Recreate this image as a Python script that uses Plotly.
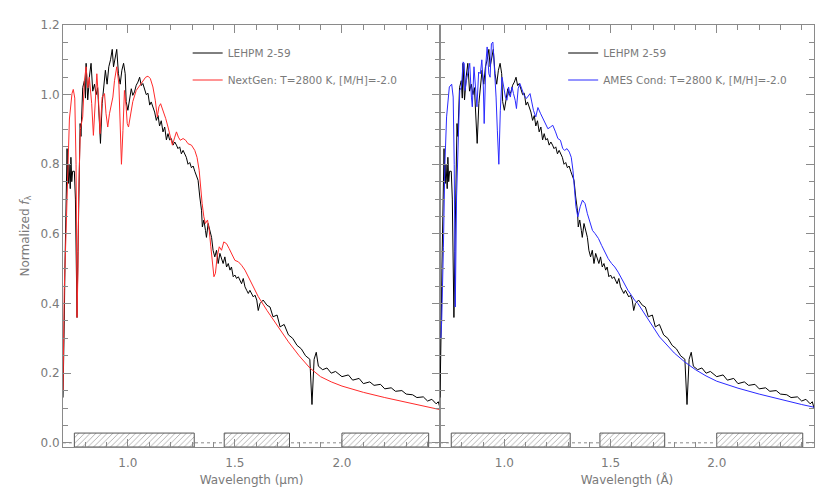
import plotly.graph_objects as go
from plotly.subplots import make_subplots

# Observed spectrum LEHPM 2-59 (wavelength in micron, normalized flux)
lehpm_wl = [0.697, 0.700, 0.703, 0.706, 0.709, 0.713, 0.716, 0.719, 0.722, 0.725, 0.728, 0.731, 0.734, 0.738, 0.742,
            0.750, 0.755, 0.758, 0.7625, 0.767, 0.772, 0.777, 0.781, 0.786, 0.789, 0.797, 0.802, 0.805, 0.809, 0.8125,
            0.817, 0.820, 0.828, 0.836, 0.844, 0.852, 0.859, 0.867, 0.872, 0.880, 0.8875, 0.895, 0.903, 0.911, 0.919,
            0.927, 0.933, 0.941, 0.948, 0.956, 0.964, 0.972, 0.980, 0.9875, 0.992, 1.000, 1.008, 1.016, 1.023, 1.031,
            1.039, 1.047, 1.055, 1.0625, 1.070, 1.078, 1.086, 1.094, 1.102, 1.109, 1.117, 1.125, 1.133, 1.141, 1.148,
            1.156, 1.164, 1.172, 1.180, 1.1875, 1.195, 1.203, 1.211, 1.219, 1.227, 1.234, 1.242, 1.250, 1.258, 1.266,
            1.273, 1.281, 1.289, 1.297, 1.305, 1.3125, 1.320, 1.328, 1.336, 1.344, 1.348, 1.355, 1.3625, 1.367, 1.375,
            1.383, 1.391, 1.398, 1.406, 1.414, 1.422, 1.430, 1.4375, 1.445, 1.453, 1.461, 1.469, 1.477, 1.484, 1.492,
            1.500, 1.508, 1.516, 1.523, 1.531, 1.539, 1.547, 1.555, 1.5625, 1.570, 1.578, 1.586, 1.594, 1.602, 1.609,
            1.617, 1.632, 1.650, 1.664, 1.678, 1.697, 1.711, 1.73, 1.75, 1.77, 1.79, 1.81, 1.83, 1.85, 1.86, 1.87,
            1.88, 1.89, 1.91, 1.93, 1.95, 1.97, 2.00, 2.03, 2.05, 2.08, 2.10, 2.13, 2.15, 2.18, 2.20, 2.23, 2.25,
            2.28, 2.30, 2.33, 2.35, 2.38, 2.40, 2.42, 2.44, 2.45, 2.458]
lehpm_flux = [0.13, 0.20, 0.35, 0.50, 0.60, 0.72, 0.845, 0.76, 0.745, 0.80, 0.77, 0.73, 0.82, 0.75, 0.78,
              0.78, 0.70, 0.55, 0.36, 0.55, 0.80, 0.917, 0.88, 0.97, 1.02, 1.04, 0.99, 1.09, 1.03, 0.985,
              1.02, 1.05, 1.09, 1.01, 1.03, 1.00, 1.02, 0.90, 0.86, 0.975, 1.03, 1.07, 1.03, 1.08, 1.10,
              1.13, 1.08, 1.11, 1.13, 1.06, 1.03, 1.07, 1.09, 1.06, 0.98, 0.955, 0.993, 1.017, 0.998, 1.008,
              1.027, 1.036, 1.05, 1.026, 1.032, 1.017, 1.00, 1.004, 0.97, 0.979, 0.965, 0.95, 0.926, 0.94, 0.91,
              0.925, 0.893, 0.907, 0.87, 0.888, 0.87, 0.874, 0.855, 0.864, 0.855, 0.845, 0.85, 0.83, 0.84, 0.83,
              0.82, 0.80, 0.805, 0.79, 0.795, 0.78, 0.764, 0.754, 0.706, 0.668, 0.62, 0.64, 0.61, 0.59, 0.63,
              0.61, 0.59, 0.553, 0.534, 0.553, 0.515, 0.544, 0.525, 0.515, 0.534, 0.505, 0.515, 0.496, 0.505, 0.477,
              0.482, 0.472, 0.477, 0.467, 0.457, 0.472, 0.448, 0.438, 0.429, 0.438, 0.429, 0.419, 0.424, 0.41, 0.38,
              0.40, 0.41, 0.395, 0.39, 0.362, 0.367, 0.333, 0.34, 0.31, 0.30, 0.28, 0.27, 0.25, 0.24, 0.11, 0.24,
              0.26, 0.22, 0.21, 0.215, 0.20, 0.205, 0.19, 0.195, 0.18, 0.185, 0.17, 0.175, 0.165, 0.168, 0.155, 0.158, 0.148,
              0.15, 0.14, 0.138, 0.13, 0.132, 0.12, 0.125, 0.112, 0.118, 0.10]

# NextGen model, T=2800 K, [M/H]=-2.0
nextgen_wl = [0.697, 0.700, 0.703, 0.711, 0.719, 0.727, 0.739, 0.745, 0.752, 0.758, 0.7625, 0.767, 0.770, 0.778,
              0.789, 0.797, 0.805, 0.8125, 0.820, 0.831, 0.839, 0.847, 0.855, 0.8625, 0.870, 0.880, 0.891, 0.898,
              0.906, 0.914, 0.922, 0.930, 0.9375, 0.948, 0.958, 0.966, 0.970, 0.977, 0.984, 0.992, 0.997, 1.003,
              1.011, 1.023, 1.039, 1.055, 1.070, 1.083, 1.094, 1.105, 1.117, 1.128, 1.1375, 1.145, 1.153, 1.164,
              1.177, 1.1875, 1.198, 1.208, 1.219, 1.227, 1.236, 1.245, 1.258, 1.270, 1.281, 1.297, 1.3125, 1.323,
              1.333, 1.339, 1.347, 1.355, 1.3625, 1.372, 1.380, 1.3875, 1.395, 1.402, 1.409, 1.417, 1.427, 1.4375,
              1.448, 1.461, 1.473, 1.484, 1.500, 1.516, 1.531, 1.547, 1.5625, 1.578, 1.594, 1.609, 1.65, 1.70,
              1.75, 1.80, 1.85, 1.90, 1.95, 2.00, 2.10, 2.20, 2.30, 2.40, 2.46]
nextgen_flux = [0.15, 0.30, 0.44, 0.60, 0.75, 0.93, 1.003, 1.015, 0.99, 0.80, 0.36, 0.50, 0.71, 0.90,
                0.936, 1.04, 1.08, 1.02, 1.05, 0.974, 0.883, 0.974, 1.06, 0.99, 0.888, 0.993, 1.003, 0.945,
                0.907, 0.945, 0.965, 0.993, 1.04, 1.08, 1.03, 0.897, 0.80, 0.897, 1.012, 0.965, 0.917, 0.907,
                0.936, 0.98, 1.012, 1.027, 1.04, 1.05, 1.053, 1.046, 1.022, 0.984, 0.936, 0.965, 0.974, 0.955,
                0.931, 0.907, 0.878, 0.855, 0.878, 0.893, 0.878, 0.869, 0.874, 0.869, 0.859, 0.855, 0.84, 0.82,
                0.783, 0.735, 0.687, 0.649, 0.63, 0.64, 0.61, 0.563, 0.515, 0.477, 0.487, 0.534, 0.563, 0.553,
                0.577, 0.572, 0.558, 0.544, 0.524, 0.52, 0.51, 0.496, 0.477, 0.458, 0.44, 0.42, 0.38, 0.335,
                0.29, 0.25, 0.215, 0.19, 0.175, 0.163, 0.145, 0.13, 0.117, 0.103, 0.095]

# AMES Cond model, T=2800 K, [M/H]=-2.0
ames_wl = [0.701, 0.705, 0.713, 0.720, 0.728, 0.741, 0.752, 0.759, 0.764, 0.769, 0.775, 0.783, 0.790, 0.798,
           0.806, 0.811, 0.815, 0.821, 0.829, 0.837, 0.845, 0.849, 0.857, 0.865, 0.871, 0.879, 0.887, 0.894,
           0.901, 0.905, 0.913, 0.919, 0.927, 0.933, 0.939, 0.946, 0.953, 0.961, 0.967, 0.974, 0.981, 0.989,
           0.997, 1.005, 1.012, 1.020, 1.028, 1.036, 1.043, 1.051, 1.057, 1.065, 1.073, 1.082, 1.093, 1.104,
           1.113, 1.121, 1.129, 1.137, 1.148, 1.158, 1.171, 1.183, 1.194, 1.205, 1.217, 1.228, 1.241, 1.252,
           1.264, 1.275, 1.284, 1.295, 1.306, 1.315, 1.323, 1.329, 1.337, 1.346, 1.357, 1.368, 1.380, 1.391,
           1.404, 1.415, 1.427, 1.443, 1.458, 1.474, 1.489, 1.505, 1.520, 1.536, 1.551, 1.567, 1.582, 1.598,
           1.613, 1.629, 1.669, 1.731, 1.80, 1.85, 1.90, 1.95, 2.00, 2.10, 2.20, 2.30, 2.40, 2.46]
ames_flux = [0.30, 0.35, 0.56, 0.80, 0.936, 1.022, 1.03, 0.993, 0.80, 0.39, 0.706, 0.90, 1.012, 1.022,
             1.094, 1.09, 1.012, 1.04, 1.07, 1.09, 0.993, 0.965, 1.08, 0.993, 0.965, 1.065, 1.06, 1.10,
             1.022, 0.917, 1.09, 1.137, 1.06, 1.05, 1.146, 1.151, 1.08, 0.993, 0.898, 0.80, 0.955, 1.05,
             1.022, 0.993, 0.984, 1.022, 0.993, 1.022, 1.003, 0.984, 0.96, 1.017, 1.032, 1.017, 0.998, 0.989,
             0.998, 1.003, 0.979, 0.955, 0.936, 0.963, 0.945, 0.931, 0.917, 0.902, 0.907, 0.912, 0.893, 0.874,
             0.869, 0.845, 0.84, 0.845, 0.835, 0.82, 0.783, 0.735, 0.678, 0.649, 0.678, 0.697, 0.687, 0.658,
             0.63, 0.61, 0.601, 0.587, 0.567, 0.548, 0.529, 0.515, 0.505, 0.49, 0.472, 0.453, 0.438, 0.424,
             0.41, 0.40, 0.362, 0.304, 0.258, 0.232, 0.21, 0.192, 0.177, 0.157, 0.14, 0.124, 0.11, 0.102]

# Wavelength regions marked by hatched boxes
fit_lo = [0.75, 1.45, 2.00]
fit_hi = [1.31, 1.755, 2.405]

y_ticks = [0.0, 0.2, 0.4, 0.6, 0.8, 1.0, 1.2]
x_ticks = [1.0, 1.5, 2.0]

AX = "#8a8a8a"
TXT = "#7a7a7a"
FONT = "DejaVu Sans"
XR = [0.697, 2.458]
YR = [-0.012, 1.2]

fig = make_subplots(rows=1, cols=2, horizontal_spacing=0.0, shared_yaxes=False)

for col, model_wl, model_flux, color, name, leg in [
    (1, nextgen_wl, nextgen_flux, "#ff2a2a", "NextGen: T=2800 K, [M/H]=-2.0", "legend"),
    (2, ames_wl, ames_flux, "#2a2aff", "AMES Cond: T=2800 K, [M/H]=-2.0", "legend2"),
]:
    fig.add_trace(go.Bar(
        x=[(a + b) / 2 for a, b in zip(fit_lo, fit_hi)],
        width=[b - a for a, b in zip(fit_lo, fit_hi)],
        y=[0.04] * len(fit_lo), base=YR[0],
        marker=dict(color="white", line=dict(color="#555555", width=1),
                    pattern=dict(shape="/", fgcolor="#444444", bgcolor="white", size=4, solidity=0.2)),
        showlegend=False, hoverinfo="skip"), row=1, col=col)
    fig.add_trace(go.Scatter(x=lehpm_wl, y=lehpm_flux, mode="lines", name="LEHPM 2-59",
                             line=dict(color="black", width=1), legend=leg, legendgroup=leg + "a"),
                  row=1, col=col)
    fig.add_trace(go.Scatter(x=model_wl, y=model_flux, mode="lines", name=name,
                             line=dict(color=color, width=1), legend=leg, legendgroup=leg + "b"),
                  row=1, col=col)

common_x = dict(range=XR, tickvals=x_ticks, tickformat=".1f", ticks="inside", ticklen=8,
                tickcolor=AX, linecolor=AX, showline=True, mirror="ticks", showgrid=False, zeroline=False,
                minor=dict(dtick=0.1, tick0=0.0, ticks="inside", ticklen=5, tickcolor=AX),
                tickfont=dict(family=FONT, size=12, color=TXT), ticklabelstandoff=5,
                title=dict(font=dict(family=FONT, size=12, color=TXT), standoff=6))
common_y = dict(range=YR, tickvals=y_ticks, tickformat=".1f", ticks="inside", ticklen=8,
                tickcolor=AX, linecolor=AX, showline=True, mirror="ticks", showgrid=False, zeroline=False,
                minor=dict(dtick=0.05, tick0=0.0, ticks="inside", ticklen=5, tickcolor=AX),
                tickfont=dict(family=FONT, size=12, color=TXT))

fig.update_xaxes(**common_x)
fig.update_yaxes(**common_y)
fig.update_xaxes(title_text="Wavelength (\u03bcm)", domain=[0, 0.502], row=1, col=1)
fig.update_xaxes(title_text="Wavelength (\u00c5)", domain=[0.502, 1], row=1, col=2)
fig.update_yaxes(title=dict(text="Normalized <i>f</i><sub>\u03bb</sub>",
                            font=dict(family=FONT, size=12, color=TXT), standoff=8), row=1, col=1)
fig.update_yaxes(showticklabels=False, row=1, col=2)

for xr, yr in [("x domain", "y"), ("x2 domain", "y2")]:
    fig.add_shape(type="line", xref=xr, yref=yr, x0=0, x1=1, y0=0, y1=0,
                  line=dict(color=AX, width=1, dash="dot"), layer="below")

legend_style = dict(font=dict(family=FONT, size=10.5, color=TXT), bgcolor="rgba(0,0,0,0)",
                    borderwidth=0, yanchor="top", xanchor="left", tracegroupgap=8, traceorder="grouped")
# page body adds an 8 px offset, so the figure is 8 px smaller than the window
fig.update_layout(
    width=822, height=490,
    margin=dict(l=55, r=16, t=17, b=51, autoexpand=False),
    paper_bgcolor="white", plot_bgcolor="white",
    barmode="overlay",
    legend=dict(x=0.166, y=0.968, **legend_style),
    legend2=dict(x=0.666, y=0.968, **legend_style),
    font=dict(family=FONT, color=TXT),
)

fig.write_html("out.html")
